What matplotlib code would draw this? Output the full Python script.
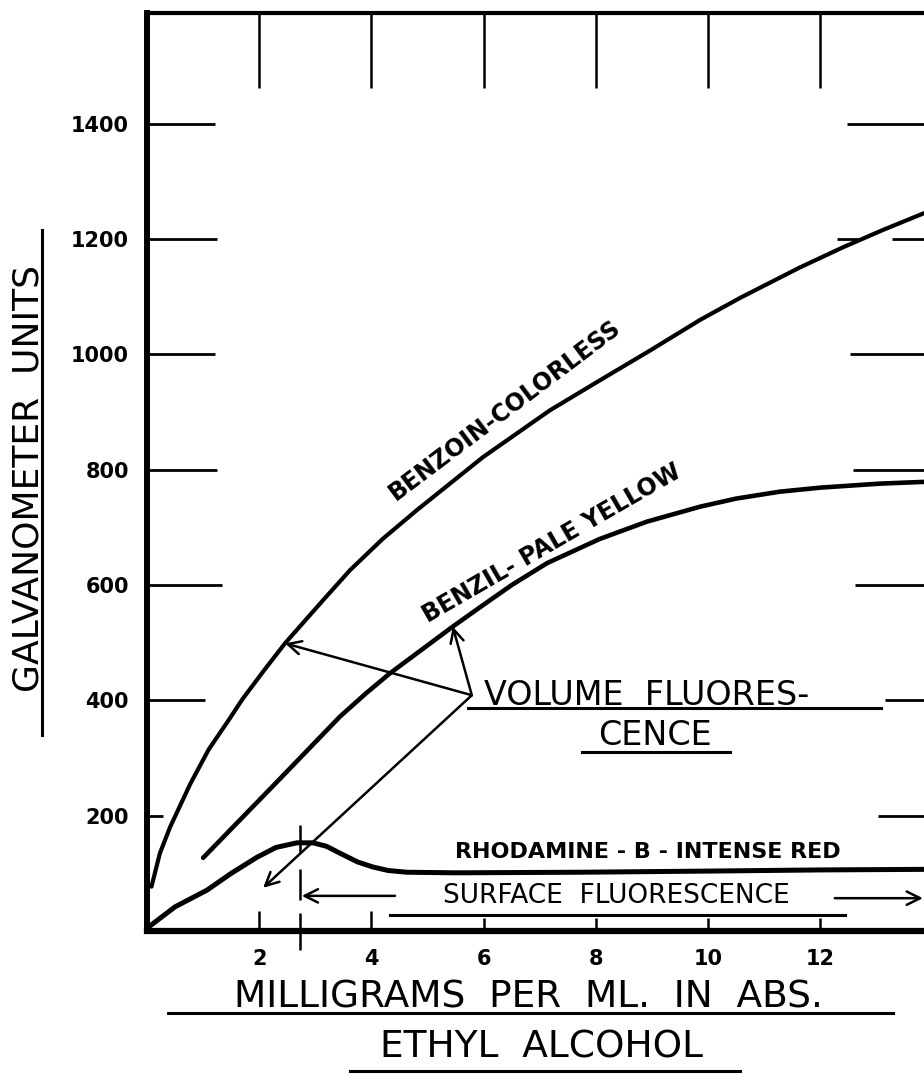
import matplotlib
matplotlib.use("Agg")
import matplotlib.pyplot as plt
from matplotlib.lines import Line2D

# ------------------------------------------------------------------ #
# values (mg per ml vs galvanometer units)
# ------------------------------------------------------------------ #
benzoin_x = [0.08, 0.23, 0.41, 0.77, 1.1, 1.45, 1.7, 2.07, 2.46, 3.14, 3.62,
             4.2, 4.81, 5.99, 7.18, 8.07, 8.97, 9.86, 10.57, 11.64, 12.41, 13.12, 13.85]
benzoin_y = [77, 135, 180, 255, 315, 365, 402, 450, 499, 574, 626,
             680, 730, 822, 903, 955, 1007, 1060, 1098, 1151, 1186, 1216, 1245]

benzil_x = [1.0, 2.25, 3.44, 3.9, 4.33, 5.45, 6.0, 6.5, 7.13, 8.07,
            8.91, 9.86, 10.5, 11.28, 12.0, 13.07, 13.85]
benzil_y = [127, 252, 372, 412, 447, 528, 566, 600, 638, 680,
            710, 736, 750, 762, 769, 776, 779]

rhod_x = [0.0, 0.5, 1.07, 1.5, 1.96, 2.3, 2.67, 2.96, 3.2, 3.44, 3.75,
          4.03, 4.3, 4.63, 5.5, 7.72, 10.0, 12.0, 13.85]
rhod_y = [5, 42, 71, 100, 128, 145, 153, 153, 147, 135, 120,
          111, 105, 102, 101, 102, 104, 106, 107]

x_ticks = [2, 4, 6, 8, 10, 12]
x_tick_labels = ["2", "4", "6", "8", "10", "12"]
y_ticks = [200, 400, 600, 800, 1000, 1200, 1400]
y_tick_labels = ["200", "400", "600", "800", "1000", "1200", "1400"]

# pointer arrows of the "volume fluorescence" note
vol_origin = (5.79, 409)
vol_targets = [(2.46, 499), (5.45, 528), (2.07, 75)]
surface_marker_x = 2.73

XMAX, YMAX = 13.85, 1592

fig = plt.figure(figsize=(9.24, 10.74), dpi=100)
ax = fig.add_axes([0.1591, 0.1331, 0.8409, 0.8547])
ax.set_xlim(0, XMAX)
ax.set_ylim(0, YMAX)

ax.spines['right'].set_visible(False)
ax.spines['left'].set_linewidth(4.3)
ax.spines['bottom'].set_linewidth(4.5)
ax.spines['top'].set_linewidth(3.0)

num_font = dict(family='DejaVu Sans', weight='bold', size=15)
ax.set_xticks(x_ticks, labels=x_tick_labels, fontdict=num_font)
ax.set_yticks(y_ticks, labels=y_tick_labels, fontdict=num_font)
ax.tick_params(axis='x', length=0, pad=13)
ax.tick_params(axis='y', length=0, pad=13)

# hand-drawn style tick lines
ax.vlines(x_ticks, YMAX - 130, YMAX, color='k', lw=1.8)
ax.vlines(x_ticks, 0, [35, 35, 22, 22, 22, 22], color='k', lw=1.8)
ax.hlines(y_ticks, 0, [0.29, 1.03, 1.33, 1.25, 1.21, 1.25, 1.21], color='k', lw=2.0)
ax.hlines([200, 400, 600, 800, 1000, 1400], [13.03, 13.15, 12.62, 12.58, 12.53, 12.48],
          XMAX, color='k', lw=2.0)
ax.hlines([1200, 1200], [12.3, 13.28], [12.67, XMAX], color='k', lw=2.0)

# curves
curve_kw = dict(color='k', solid_capstyle='round', solid_joinstyle='round')
ax.plot(benzoin_x, benzoin_y, lw=3.0, **curve_kw)
ax.plot(benzil_x, benzil_y, lw=3.3, **curve_kw)
ax.plot(rhod_x, rhod_y, lw=3.6, **curve_kw)

arrow_kw = dict(arrowstyle='->', lw=1.8, color='k', mutation_scale=24,
                shrinkA=0, shrinkB=0)
for tgt in vol_targets:
    ax.annotate('', xy=tgt, xytext=vol_origin, arrowprops=arrow_kw)

# surface fluorescence marker and arrows
ax.vlines([surface_marker_x] * 3, [135, 54, -33], [184, 108, 31], color='k', lw=1.8,
          clip_on=False)
ax.annotate('', xy=(surface_marker_x + 0.03, 61), xytext=(4.42, 61), arrowprops=arrow_kw)
ax.annotate('', xy=(13.83, 57), xytext=(12.26, 57), arrowprops=arrow_kw,
            annotation_clip=False)

label_font = dict(family='DejaVu Sans', weight='bold', size=17)
ax.text(6.38, 903, "BENZOIN-COLORLESS", rotation=37, ha='center', va='center',
        fontdict=label_font)
ax.text(7.22, 672, "BENZIL- PALE YELLOW", rotation=30, ha='center', va='center',
        fontdict=label_font)
ax.text(8.93, 137, "RHODAMINE - B - INTENSE RED", ha='center', va='center',
        fontdict=dict(family='DejaVu Sans', weight='bold', size=16))

note_font = dict(family='DejaVu Sans', size=24)
ax.text(6.0, 409, "VOLUME  FLUORES-", ha='left', va='center', fontdict=note_font)
ax.text(9.06, 340, "CENCE", ha='center', va='center', fontdict=note_font)
ax.plot([5.72, 13.08], [387, 387], color='k', lw=2.2)
ax.plot([7.75, 10.39], [310, 310], color='k', lw=2.2)

ax.text(8.36, 60, "SURFACE  FLUORESCENCE", ha='center', va='center',
        fontdict=dict(family='DejaVu Sans', size=19))
ax.plot([4.33, 12.44], [28, 28], color='k', lw=2.2)

# axis titles with their underlines
W, H = 924.0, 1074.0
fig.text(528 / W, 1 - 997 / H, "MILLIGRAMS  PER  ML.  IN  ABS.", ha='center',
         va='center', family='DejaVu Sans', size=27)
fig.text(541 / W, 1 - 1048 / H, "ETHYL  ALCOHOL", ha='center', va='center',
         family='DejaVu Sans', size=27)
fig.text(29 / W, 1 - 478 / H, "GALVANOMETER  UNITS", ha='center', va='center',
         rotation=90, family='DejaVu Sans', size=26)
fig.add_artist(Line2D([168 / W, 893 / W], [1 - 1013 / H] * 2, color='k', lw=2.2))
fig.add_artist(Line2D([350 / W, 740 / W], [1 - 1071 / H] * 2, color='k', lw=2.2))
fig.add_artist(Line2D([42 / W] * 2, [1 - 230 / H, 1 - 735 / H], color='k', lw=2.2))

fig.savefig("out.png", dpi=100)
